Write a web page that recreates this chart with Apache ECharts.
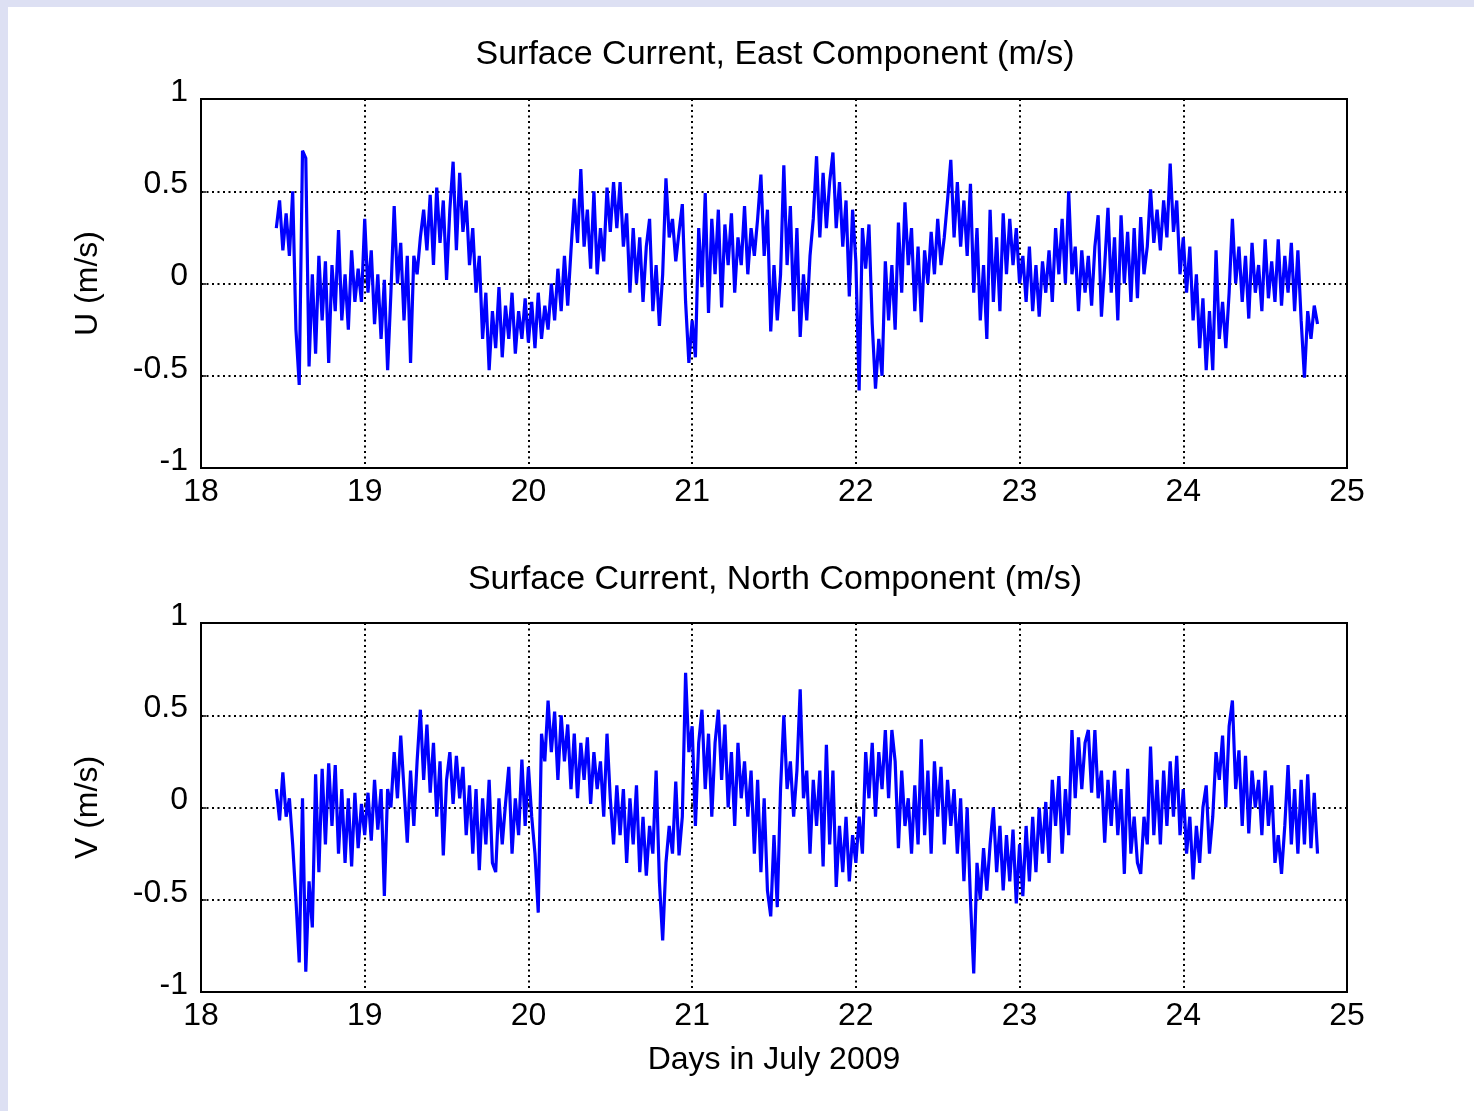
<!DOCTYPE html>
<html>
<head>
<meta charset="utf-8">
<title>Surface Current</title>
<script src="https://cdn.jsdelivr.net/npm/echarts@6/dist/echarts.min.js"></script>
<style>
  html, body { margin: 0; padding: 0; background: #dde0f3; }
  #chart { position: absolute; left: 8px; top: 7px; width: 1466px; height: 1104px; background: #fff; }
</style>
</head>
<body>
<div id="chart"></div>
<script>
// sample times: every 0.02 day starting at 18.46 (days in July 2009)
const tStart = 18.46
const tStep = 0.02

const xTicks = [18, 19, 20, 21, 22, 23, 24, 25]
const yTicks = [-1, -0.5, 0, 0.5, 1]

// east component U (m/s), one row = 0.2 day
const uVals = [
  0.30, 0.45, 0.18, 0.38, 0.15, 0.50, -0.25, -0.55, 0.72, 0.68,
  -0.45, 0.05, -0.38, 0.15, -0.20, 0.12, -0.43, 0.10, -0.15, 0.29,
  -0.20, 0.05, -0.25, 0.18, -0.10, 0.08, -0.10, 0.35, -0.05, 0.18,
  -0.22, 0.05, -0.30, 0.02, -0.47, -0.05, 0.42, 0.00, 0.22, -0.20,
  0.15, -0.43, 0.15, 0.05, 0.25, 0.40, 0.18, 0.48, 0.10, 0.52,
  0.22, 0.45, 0.02, 0.40, 0.66, 0.18, 0.60, 0.28, 0.45, 0.10,
  0.30, -0.05, 0.15, -0.30, -0.05, -0.47, -0.15, -0.35, -0.02, -0.40,
  -0.12, -0.30, -0.05, -0.38, -0.15, -0.30, -0.08, -0.32, -0.10, -0.35,
  -0.05, -0.30, -0.12, -0.25, 0.00, -0.20, 0.08, -0.15, 0.15, -0.12,
  0.18, 0.46, 0.22, 0.62, 0.20, 0.40, 0.08, 0.50, 0.05, 0.30,
  0.12, 0.52, 0.28, 0.55, 0.30, 0.55, 0.20, 0.38, -0.05, 0.30,
  0.00, 0.25, -0.10, 0.20, 0.35, -0.15, 0.10, -0.23, 0.05, 0.57,
  0.25, 0.35, 0.12, 0.28, 0.43, -0.10, -0.43, -0.20, -0.40, 0.30,
  -0.02, 0.49, -0.16, 0.35, 0.05, 0.40, -0.13, 0.32, 0.10, 0.38,
  -0.05, 0.25, 0.10, 0.42, 0.05, 0.30, 0.15, 0.35, 0.59, 0.15,
  0.40, -0.26, 0.10, -0.20, 0.05, 0.64, 0.10, 0.42, -0.15, 0.30,
  -0.29, 0.05, -0.20, 0.15, 0.35, 0.69, 0.25, 0.60, 0.30, 0.55,
  0.71, 0.30, 0.55, 0.20, 0.45, -0.07, 0.40, 0.12, -0.58, 0.30,
  0.08, 0.32, -0.22, -0.57, -0.30, -0.50, 0.12, -0.20, 0.10, -0.25,
  0.33, -0.05, 0.44, 0.10, 0.30, -0.15, 0.20, -0.21, 0.18, 0.00,
  0.28, 0.05, 0.35, 0.10, 0.25, 0.45, 0.67, 0.25, 0.55, 0.20,
  0.45, 0.15, 0.54, -0.05, 0.30, -0.20, 0.10, -0.30, 0.40, -0.10,
  0.25, -0.15, 0.38, 0.05, 0.35, 0.10, 0.30, 0.00, 0.15, -0.10,
  0.20, -0.15, 0.10, -0.18, 0.12, -0.05, 0.18, -0.10, 0.30, 0.05,
  0.35, 0.00, 0.50, 0.05, 0.20, -0.15, 0.18, -0.05, 0.15, -0.12,
  0.20, 0.37, -0.18, 0.10, 0.41, -0.05, 0.25, -0.20, 0.37, 0.00,
  0.28, -0.10, 0.30, -0.08, 0.36, 0.05, 0.20, 0.51, 0.22, 0.40,
  0.18, 0.45, 0.25, 0.65, 0.28, 0.45, 0.05, 0.25, -0.05, 0.20,
  -0.20, 0.05, -0.35, -0.08, -0.47, -0.15, -0.47, 0.18, -0.30, -0.10,
  -0.35, -0.05, 0.35, 0.00, 0.20, -0.10, 0.15, -0.19, 0.22, -0.05,
  0.10, -0.15, 0.24, -0.08, 0.12, -0.10, 0.24, -0.12, 0.15, -0.05,
  0.22, -0.15, 0.18, -0.20, -0.51, -0.15, -0.30, -0.12, -0.22
]

// north component V (m/s), one row = 0.2 day
const vVals = [
  0.10, -0.07, 0.19, -0.05, 0.05, -0.20, -0.50, -0.84, 0.05, -0.89,
  -0.40, -0.65, 0.18, -0.35, 0.21, -0.20, 0.24, -0.10, 0.23, -0.25,
  0.10, -0.30, 0.05, -0.32, 0.08, -0.22, 0.02, -0.15, 0.08, -0.18,
  0.15, -0.12, 0.10, -0.48, 0.10, 0.00, 0.30, 0.05, 0.39, 0.10,
  -0.19, 0.20, -0.10, 0.25, 0.53, 0.15, 0.45, 0.08, 0.35, -0.05,
  0.25, -0.26, 0.15, 0.30, 0.02, 0.28, 0.05, 0.22, -0.15, 0.12,
  -0.25, 0.10, -0.34, 0.05, -0.20, 0.15, -0.30, -0.35, 0.05, -0.20,
  0.02, 0.22, -0.25, 0.05, -0.15, 0.26, -0.10, 0.22, -0.05, -0.25,
  -0.57, 0.40, 0.25, 0.58, 0.30, 0.52, 0.15, 0.50, 0.25, 0.45,
  0.10, 0.40, 0.05, 0.35, 0.15, 0.38, 0.02, 0.30, 0.10, 0.25,
  -0.05, 0.40, 0.05, -0.20, 0.12, -0.15, 0.10, -0.30, 0.05, -0.20,
  0.12, -0.35, -0.05, -0.37, -0.10, -0.25, 0.20, -0.40, -0.72, -0.30,
  -0.10, -0.25, 0.14, -0.26, -0.05, 0.73, 0.30, 0.44, -0.10, 0.35,
  0.53, 0.10, 0.40, -0.05, 0.35, 0.53, 0.15, 0.45, 0.00, 0.30,
  -0.10, 0.35, 0.05, 0.25, -0.05, 0.20, -0.25, 0.15, -0.35, 0.05,
  -0.45, -0.59, -0.15, -0.54, 0.10, 0.50, 0.10, 0.25, -0.05, 0.20,
  0.64, 0.05, 0.20, -0.25, 0.15, -0.10, 0.20, -0.32, 0.34, -0.20,
  0.20, -0.43, -0.10, -0.35, -0.05, -0.40, -0.15, -0.30, -0.05, -0.25,
  0.30, 0.05, 0.35, -0.05, 0.30, 0.10, 0.42, 0.05, 0.42, 0.25,
  -0.22, 0.20, -0.10, 0.05, -0.25, 0.12, -0.20, 0.37, -0.15, 0.20,
  -0.25, 0.25, -0.05, 0.22, -0.20, 0.15, -0.10, 0.10, -0.25, 0.05,
  -0.40, 0.00, -0.50, -0.90, -0.30, -0.50, -0.22, -0.45, -0.20, 0.00,
  -0.35, -0.10, -0.45, -0.15, -0.40, -0.12, -0.52, -0.20, -0.48, -0.10,
  -0.40, -0.05, -0.35, 0.00, -0.25, 0.03, -0.30, 0.15, -0.10, 0.17,
  -0.25, 0.10, -0.15, 0.42, 0.05, 0.38, 0.10, 0.35, 0.42, 0.08,
  0.42, 0.05, 0.20, -0.19, 0.15, -0.10, 0.20, -0.15, 0.10, -0.36,
  0.21, -0.25, -0.05, -0.30, -0.36, -0.05, -0.20, 0.33, -0.15, 0.15,
  -0.20, 0.20, -0.10, 0.25, -0.05, 0.28, -0.15, 0.10, -0.25, -0.05,
  -0.39, -0.10, -0.30, 0.00, 0.12, -0.25, -0.05, 0.30, 0.15, 0.39,
  0.00, 0.44, 0.58, 0.10, 0.31, -0.10, 0.28, -0.14, 0.20, 0.00,
  0.15, -0.15, 0.20, -0.10, 0.12, -0.30, -0.15, -0.36, -0.10, 0.23,
  -0.20, 0.10, -0.25, 0.15, -0.20, 0.18, -0.22, 0.08, -0.25
]

const times = uVals.map((v, i) => +(tStart + i * tStep).toFixed(2))
const pairs = vals => vals.map((v, i) => [times[i], v])

const FONT = '"Liberation Sans", Arial, Helvetica, sans-serif'

function xAxisOf (gridIndex, name) {
  return {
    type: 'value',
    gridIndex: gridIndex,
    min: xTicks[0],
    max: xTicks[xTicks.length - 1],
    interval: 1,
    name: name,
    nameLocation: 'middle',
    nameGap: 52,
    nameTextStyle: { color: '#000', fontSize: 32, fontFamily: FONT },
    axisLine: { show: false },
    axisTick: { show: true, inside: true, length: 5, lineStyle: { color: '#000', width: 1.5 } },
    axisLabel: { color: '#000', fontSize: 32, fontFamily: FONT, margin: 8 },
    splitLine: { show: true, lineStyle: { color: '#000', width: 2, type: [2, 3.5] } }
  }
}

function yAxisOf (gridIndex, name) {
  return {
    type: 'value',
    gridIndex: gridIndex,
    min: yTicks[0],
    max: yTicks[yTicks.length - 1],
    interval: 0.5,
    name: name,
    nameLocation: 'middle',
    nameRotate: 90,
    nameGap: 97,
    nameTextStyle: { color: '#000', fontSize: 32, fontFamily: FONT },
    axisLine: { show: false },
    axisTick: { show: true, inside: true, length: 5, lineStyle: { color: '#000', width: 1.5 } },
    // labels sit a little above their tick, like the original
    axisLabel: { color: '#000', fontSize: 32, fontFamily: FONT, margin: 13, verticalAlign: 'bottom', lineHeight: 14 },
    splitLine: { show: true, lineStyle: { color: '#000', width: 2, type: [2, 3.5] } }
  }
}

const chart = echarts.init(document.getElementById('chart'))
const option = {
  backgroundColor: '#fff',
  animation: false,
  title: [
    {
      text: 'Surface Current, East Component (m/s)',
      left: 762,
      top: 26,
      textAlign: 'center',
      textStyle: { color: '#000', fontSize: 34, fontWeight: 'normal', fontFamily: FONT }
    },
    {
      text: 'Surface Current, North Component (m/s)',
      left: 762,
      top: 551,
      textAlign: 'center',
      textStyle: { color: '#000', fontSize: 34, fontWeight: 'normal', fontFamily: FONT }
    }
  ],
  grid: [
    { left: 193, top: 92, width: 1146, height: 369, show: true, borderColor: '#000', borderWidth: 2, backgroundColor: 'transparent' },
    { left: 193, top: 616, width: 1146, height: 369, show: true, borderColor: '#000', borderWidth: 2, backgroundColor: 'transparent' }
  ],
  xAxis: [xAxisOf(0, ''), xAxisOf(1, 'Days in July 2009')],
  yAxis: [yAxisOf(0, 'U (m/s)'), yAxisOf(1, 'V (m/s)')],
  series: [
    {
      name: 'U',
      type: 'line',
      xAxisIndex: 0,
      yAxisIndex: 0,
      data: pairs(uVals),
      showSymbol: false,
      lineStyle: { color: '#0000ff', width: 3.2, join: 'bevel' },
      itemStyle: { color: '#0000ff' }
    },
    {
      name: 'V',
      type: 'line',
      xAxisIndex: 1,
      yAxisIndex: 1,
      data: pairs(vVals),
      showSymbol: false,
      lineStyle: { color: '#0000ff', width: 3.2, join: 'bevel' },
      itemStyle: { color: '#0000ff' }
    }
  ]
}
chart.setOption(option)
</script>
</body>
</html>
